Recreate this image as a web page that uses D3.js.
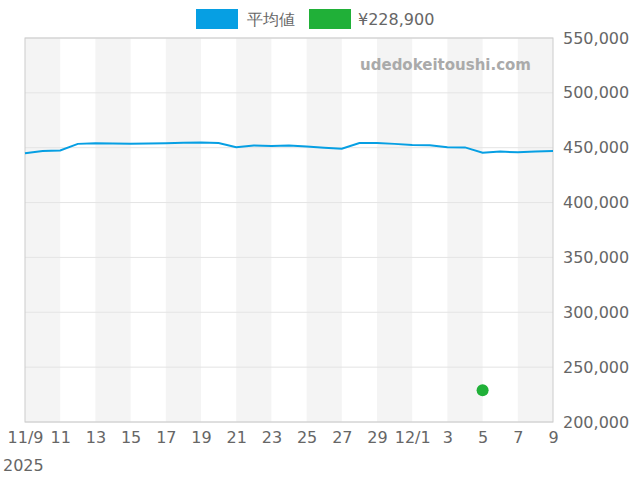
<!DOCTYPE html>
<html><head><meta charset="utf-8">
<script src="https://cdn.jsdelivr.net/npm/d3@7"></script>
<style>body{margin:0;background:#fff}text{font-family:"DejaVu Sans",sans-serif}</style>
</head><body><svg id="c" width="640" height="480"></svg>
<script>
const avgValues = [445000,447000,447500,453500,454000,453800,453500,453800,454000,454500,454800,454300,450500,452000,451500,452000,451000,450000,449000,454300,454300,453500,452500,452300,450500,450300,445500,446500,445800,446500,447000];
const pointDate = new Date(2025, 11, 5);
const pointValue = 228900;
const yTicks = [200000,250000,300000,350000,400000,450000,500000,550000];
const start = new Date(2025, 10, 9);
const dates = avgValues.map((v, i) => d3.timeDay.offset(start, i));

const svg = d3.select("#c");
const m = {l: 25, r: 553, t: 38, b: 422};
const x = d3.scaleTime().domain([start, dates[dates.length - 1]]).range([m.l, m.r]);
const y = d3.scaleLinear().domain([200000, 550000]).range([m.b, m.t]);

// alternating bands
for (let i = 0; i < 30; i += 4) {
  svg.append("rect").attr("x", x(dates[i])).attr("y", m.t)
    .attr("width", x(dates[i + 2]) - x(dates[i])).attr("height", m.b - m.t).attr("fill", "#f4f4f4");
}
// grid
yTicks.forEach(t => svg.append("line").attr("x1", m.l).attr("x2", m.r).attr("y1", y(t)).attr("y2", y(t)).attr("stroke", "#e4e4e4"));
svg.append("rect").attr("x", m.l).attr("y", m.t).attr("width", m.r - m.l).attr("height", m.b - m.t)
  .attr("fill", "none").attr("stroke", "#ccc");

svg.append("text").attr("x", 531).attr("y", 70).attr("text-anchor", "end").attr("fill", "#aaa")
  .attr("font-size", 15).attr("font-weight", "bold").text("udedokeitoushi.com");

const yAxis = svg.append("g").attr("transform", `translate(${m.r},0)`)
  .call(d3.axisRight(y).tickValues(yTicks).tickSize(0).tickPadding(10).tickFormat(d3.format(",")));
yAxis.select(".domain").remove();
yAxis.selectAll("text").attr("font-size", 16).attr("fill", "#666");

const xt = dates.filter((d, i) => i % 2 === 0);
const xAxis = svg.append("g").attr("transform", `translate(0,${m.b})`)
  .call(d3.axisBottom(x).tickValues(xt).tickSize(0).tickPadding(10)
    .tickFormat(d => d.getDate() === 1 || +d === +start ? `${d.getMonth() + 1}/${d.getDate()}` : d.getDate()));
xAxis.select(".domain").remove();
xAxis.selectAll("text").attr("font-size", 16).attr("fill", "#666");
svg.append("text").attr("x", 3).attr("y", 471).attr("font-size", 16).attr("fill", "#666").text("2025");

svg.append("path").datum(avgValues).attr("fill", "none").attr("stroke", "#069fe3").attr("stroke-width", 2)
  .attr("d", d3.line().x((d, i) => x(dates[i])).y(d => y(d)));
svg.append("circle").attr("cx", x(pointDate)).attr("cy", y(pointValue)).attr("r", 6).attr("fill", "#20b038");

// legend
svg.append("rect").attr("x", 196).attr("y", 9).attr("width", 42).attr("height", 20).attr("fill", "#069fe3");
svg.append("text").attr("x", 247).attr("y", 25).attr("font-size", 16).attr("fill", "#666").text("平均値");
svg.append("rect").attr("x", 309).attr("y", 9).attr("width", 42).attr("height", 20).attr("fill", "#20b038");
svg.append("text").attr("x", 358).attr("y", 25).attr("font-size", 16).attr("fill", "#666").text("¥228,900");
</script></body></html>
